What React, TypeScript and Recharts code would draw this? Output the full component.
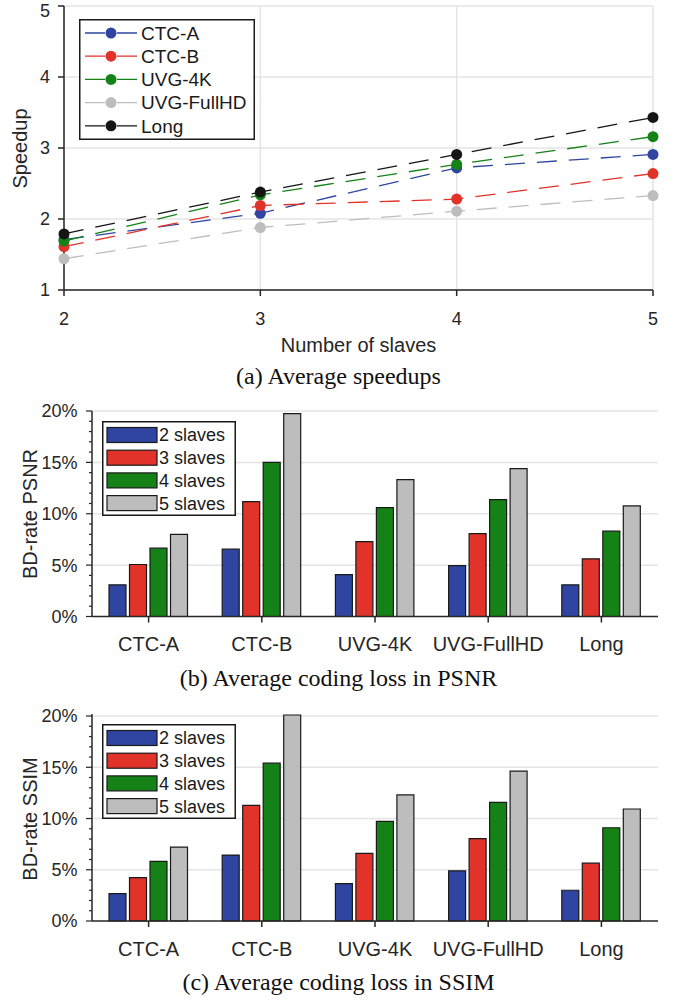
import {
  LineChart,
  Line,
  BarChart,
  Bar,
  XAxis,
  YAxis,
  CartesianGrid,
  Legend,
} from "recharts";

// speedup vs number of slaves
const slaves = [2, 3, 4, 5];
const ctcASpeedup = [1.71, 2.08, 2.72, 2.91];
const ctcBSpeedup = [1.61, 2.19, 2.28, 2.64];
const uvg4kSpeedup = [1.69, 2.34, 2.77, 3.16];
const uvgFullHdSpeedup = [1.44, 1.88, 2.11, 2.33];
const longSpeedup = [1.79, 2.38, 2.91, 3.43];
const speedupTicks = [1, 2, 3, 4, 5];

// coding loss per sequence class
const sequences = ["CTC-A", "CTC-B", "UVG-4K", "UVG-FullHD", "Long"];
const slaveLabels = ["2 slaves", "3 slaves", "4 slaves", "5 slaves"];

const psnr2 = [3.08, 6.55, 4.08, 4.96, 3.08];
const psnr3 = [5.06, 11.18, 7.29, 8.07, 5.61];
const psnr4 = [6.65, 15.0, 10.6, 11.38, 8.3];
const psnr5 = [8.0, 19.74, 13.32, 14.39, 10.76];

const ssim2 = [2.68, 6.43, 3.65, 4.89, 3.0];
const ssim3 = [4.24, 11.29, 6.59, 8.03, 5.64];
const ssim4 = [5.81, 15.4, 9.72, 11.58, 9.1];
const ssim5 = [7.21, 20.1, 12.3, 14.62, 10.93];

const percentTicks = [0, 1, 2, 3, 4, 5, 6, 7, 8, 9, 10, 11, 12, 13, 14, 15, 16, 17, 18, 19, 20];

const lineKeys = ["ctcA", "ctcB", "uvg4k", "uvgFullHd", "long"];
const lineColors = ["#2f45a1", "#e2332a", "#148216", "#bdbdbd", "#151515"];
const barKeys = ["s2", "s3", "s4", "s5"];
const barColors = ["#2f45a1", "#e2332a", "#148216", "#bdbdbd"];

const AXIS = "#262626";
const GRID = "#e4e4e4";
const EDGE = "#1a1a1a";

const speedupData = slaves.map((s, i) => ({
  slaves: s,
  ctcA: ctcASpeedup[i],
  ctcB: ctcBSpeedup[i],
  uvg4k: uvg4kSpeedup[i],
  uvgFullHd: uvgFullHdSpeedup[i],
  long: longSpeedup[i],
}));

const psnrData = sequences.map((name, i) => ({
  name,
  s2: psnr2[i],
  s3: psnr3[i],
  s4: psnr4[i],
  s5: psnr5[i],
}));

const ssimData = sequences.map((name, i) => ({
  name,
  s2: ssim2[i],
  s3: ssim3[i],
  s4: ssim4[i],
  s5: ssim5[i],
}));

function LineLegend() {
  return (
    <svg width={176} height={121} style={{ display: "block" }}>
      <rect x={0.75} y={0.75} width={174.5} height={119.5} fill="#fff" stroke={EDGE} strokeWidth={1.5} />
      {sequences.map((name, i) => {
        const cy = 14 + i * 23.2;
        return (
          <g key={name}>
            <line x1={6} x2={58} y1={cy} y2={cy} stroke={lineColors[i]} strokeWidth={1.3} strokeDasharray="20 12" />
            <circle cx={32} cy={cy} r={5.5} fill={lineColors[i]} />
            <text x={62} y={cy} dy="0.36em" fontSize={19} fill={EDGE}>
              {name}
            </text>
          </g>
        );
      })}
    </svg>
  );
}

function BarLegend() {
  return (
    <svg width={134} height={95} style={{ display: "block" }}>
      <rect x={0.75} y={0.75} width={132.5} height={93.5} fill="#fff" stroke={EDGE} strokeWidth={1.5} />
      {slaveLabels.map((label, i) => {
        const cy = 14 + i * 22.7;
        return (
          <g key={label}>
            <rect x={5} y={cy - 7.5} width={50} height={15} fill={barColors[i]} stroke={EDGE} strokeWidth={1.2} />
            <text x={57} y={cy} dy="0.36em" fontSize={18} fill={EDGE}>
              {label}
            </text>
          </g>
        );
      })}
    </svg>
  );
}

function PercentTick(props: any) {
  const { x, y, payload } = props;
  const v = payload.value;
  const major = v % 5 === 0;
  return (
    <g>
      <line x1={x - (major ? 6 : 3)} x2={x} y1={y} y2={y} stroke={AXIS} strokeWidth={1.2} />
      {major && (
        <text x={x - 14.5} y={y} dy="0.355em" textAnchor="end" fontSize={18} fill={AXIS}>
          {v}%
        </text>
      )}
    </g>
  );
}

function LossChart({ data, domainMax, top }: { data: any[]; domainMax: number; top: number }) {
  return (
    <BarChart
      width={677}
      height={271}
      data={data}
      margin={{ top, right: 19, bottom: 0, left: 0 }}
      barGap={3.5}
    >
      <CartesianGrid vertical={false} horizontalValues={[5, 10, 15, 20]} stroke={GRID} strokeWidth={1.5} />
      <XAxis
        dataKey="name"
        height={271 - top - (domainMax > 20 ? 207 : 205.5)}
        tickSize={6}
        tickMargin={14.5}
        tick={{ fontSize: 20, fill: AXIS }}
        tickLine={{ stroke: AXIS, strokeWidth: 1.5 }}
        axisLine={{ stroke: AXIS, strokeWidth: 1.5 }}
      />
      <YAxis
        width={92}
        domain={[0, domainMax]}
        ticks={percentTicks}
        interval={0}
        tickSize={0}
        tickMargin={0}
        tickLine={false}
        tick={(p: any) => <PercentTick {...p} />}
        axisLine={{ stroke: AXIS, strokeWidth: 1.5 }}
      />
      <Legend
        layout="vertical"
        align="center"
        verticalAlign="middle"
        content={() => <BarLegend />}
        wrapperStyle={{ left: 102, top: top + 10, width: 134, height: 95 }}
      />
      {barKeys.map((k, i) => (
        <Bar
          key={k}
          dataKey={k}
          name={slaveLabels[i]}
          fill={barColors[i]}
          stroke={EDGE}
          strokeWidth={1.2}
          barSize={17}
          isAnimationActive={false}
        />
      ))}
    </BarChart>
  );
}

export default function App() {
  return (
    <div
      style={{
        position: "absolute",
        left: 0,
        top: 0,
        width: 677,
        height: 1003,
        background: "#fff",
        fontFamily: "'Liberation Sans', Arial, sans-serif",
        color: AXIS,
      }}
    >
      <div style={{ position: "absolute", left: 0, top: 0 }}>
        <LineChart width={677} height={330} data={speedupData} margin={{ top: 6, right: 24, bottom: 0, left: 0 }}>
          <CartesianGrid stroke={GRID} strokeWidth={1.5} />
          <XAxis
            dataKey="slaves"
            type="number"
            domain={[2, 5]}
            ticks={slaves}
            height={40}
            tickSize={6}
            tickMargin={16}
            tick={{ fontSize: 18, fill: AXIS }}
            tickLine={{ stroke: AXIS, strokeWidth: 1.5 }}
            axisLine={{ stroke: AXIS, strokeWidth: 1.5 }}
          />
          <YAxis
            width={64}
            domain={[1, 5]}
            ticks={speedupTicks}
            tickSize={6}
            tickMargin={8}
            tick={{ fontSize: 18, fill: AXIS }}
            tickLine={{ stroke: AXIS, strokeWidth: 1.5 }}
            axisLine={{ stroke: AXIS, strokeWidth: 1.5 }}
          />
          <Legend
            layout="vertical"
            align="center"
            verticalAlign="middle"
            content={() => <LineLegend />}
            wrapperStyle={{ left: 79, top: 19, width: 176, height: 121 }}
          />
          {lineKeys.map((k, i) => (
            <Line
              key={k}
              type="linear"
              dataKey={k}
              name={sequences[i]}
              stroke={lineColors[i]}
              strokeWidth={1.3}
              strokeDasharray="20 12"
              dot={{ r: 5.5, fill: lineColors[i], stroke: lineColors[i], strokeWidth: 0 }}
              activeDot={false}
              isAnimationActive={false}
            />
          ))}
        </LineChart>
      </div>

      <div style={{ position: "absolute", left: 0, top: 395 }}>
        <LossChart data={psnrData} domainMax={20} top={16} />
      </div>

      <div style={{ position: "absolute", left: 0, top: 700 }}>
        <LossChart data={ssimData} domainMax={20.2} top={14} />
      </div>

      <svg
        width={677}
        height={1003}
        style={{ position: "absolute", left: 0, top: 0, pointerEvents: "none" }}
      >
        <g fill={AXIS} fontSize={20}>
          <text x={27} y={148.5} textAnchor="middle" transform="rotate(-90 27 148.5)">
            Speedup
          </text>
          <text x={358.5} y={352} textAnchor="middle">
            Number of slaves
          </text>
          <text x={37} y={514} textAnchor="middle" transform="rotate(-90 37 514)">
            BD-rate PSNR
          </text>
          <text x={37} y={819} textAnchor="middle" transform="rotate(-90 37 819)">
            BD-rate SSIM
          </text>
        </g>
        <g fill="#111" fontSize={24} fontFamily="'Liberation Serif', 'Times New Roman', serif">
          <text x={338.5} y={384} textAnchor="middle">
            (a) Average speedups
          </text>
          <text x={338.5} y={685.5} textAnchor="middle">
            (b) Average coding loss in PSNR
          </text>
          <text x={338.5} y={990} textAnchor="middle">
            (c) Average coding loss in SSIM
          </text>
        </g>
      </svg>
    </div>
  );
}
